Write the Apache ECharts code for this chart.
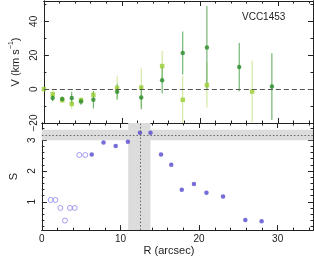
<!DOCTYPE html>
<html>
<head>
<meta charset="utf-8">
<script src="https://cdn.jsdelivr.net/npm/echarts@6/dist/echarts.min.js"></script>
<style>html,body{margin:0;padding:0;background:#fff;}#c{width:314px;height:257px;}</style>
</head>
<body>
<div id="c"></div>
<script>
// ---- data ----
const rLight = [0, 1.13, 2.35, 3.57, 4.76, 6.34, 9.39, 12.48, 15.16, 17.80, 20.9, 26.7];
const vLight = [0, -3.0, -6.5, -8.7, -6.5, -3.4, 0.6, 0.9, 13.6, -6.3, 2.4, -1.4];
const eLight = [0, 2.2, 1.5, 3.0, 1.8, 2.0, 7.0, 11.4, 8.9, 14.0, 13.3, 18.2];

const rDark = [1.13, 2.35, 3.57, 4.76, 6.34, 9.39, 12.48, 15.16, 17.80, 20.9, 25.04, 29.23];
const vDark = [-5.3, -5.9, -5.3, -7.3, -6.3, -1.6, -5.0, 5.3, 21.3, 24.6, 13.0, 1.5];
const eDark = [1.9, 1.5, 3.7, 2.0, 5.1, 4.5, 6.9, 7.9, 12.7, 24.5, 14.3, 19.7];

const rOpen = [1.13, 1.71, 2.35, 2.93, 3.57, 4.18, 4.76, 5.52];
const sOpen = [1.06, 1.06, 0.80, 0.39, 0.80, 0.80, 2.52, 2.52];

const rFill = [6.34, 7.84, 9.39, 10.94, 12.48, 13.82, 15.16, 16.46, 17.80, 19.35, 20.94, 23.05, 25.89, 27.96];
const sFill = [2.54, 2.93, 2.81, 2.95, 3.24, 3.24, 2.54, 2.20, 1.39, 1.58, 1.29, 1.17, 0.41, 0.37];

const sBand = [3.0, 3.34]; const sLine = 3.17;
const rBand = [10.98, 13.82]; const rLine = 12.48;

const xRange = [0, 34.5];
const vRange = [-20, 52];
const sRange = [0.08, 3.56];
const xMajor = [0, 10, 20, 30];
const xMinor = [2, 4, 6, 8, 12, 14, 16, 18, 22, 24, 26, 28, 32, 34];
const vMajor = [-20, 0, 20, 40];
const vMinor = [-10, 10, 30, 50];
const sMajor = [1, 2, 3];
const sMinor = [0.2, 0.4, 0.6, 0.8, 1.2, 1.4, 1.6, 1.8, 2.2, 2.4, 2.6, 2.8, 3.2, 3.4];

// ---- styles ----
const FONT = 'Liberation Sans';
const FRAME = '#222';
const cLight = '#9acd32', cLightBar = '#c9e58c';
const cDark = '#2a8c2a', cDarkBar = '#5aa85a';
const cFill = '#5548d0', cOpen = '#8c86ee';

function fmt(v) { return String(v).replace('-', '\u2212'); }

function mkAxes(grid, range, major, minor, positions, labelPos, extra) {
  const out = [];
  positions.forEach(function (pos) {
    [[major, 5], [minor, 2.5]].forEach(function (pair, k) {
      const ax = {
        type: 'value', gridIndex: grid, min: range[0], max: range[1], position: pos,
        axisLine: { show: true, onZero: false, lineStyle: { color: FRAME, width: 1 } },
        axisTick: { show: true, inside: true, length: pair[1], customValues: pair[0], lineStyle: { color: FRAME, width: 1 } },
        axisLabel: { show: false },
        splitLine: { show: false }
      };
      if (k === 0 && pos === labelPos) {
        Object.assign(ax, extra);
        ax.axisLabel = Object.assign({ show: true, customValues: major, color: '#222', fontFamily: FONT, fontSize: 10, formatter: fmt }, extra.axisLabel || {});
      }
      out.push(ax);
    });
  });
  return out;
}

const xAxes = []
  .concat(mkAxes(0, xRange, xMajor, xMinor, ['bottom', 'top'], 'none', {}))
  .concat(mkAxes(1, xRange, xMajor, xMinor, ['bottom', 'top'], 'bottom', {
    name: 'R (arcsec)', nameLocation: 'middle', nameGap: 11,
    nameTextStyle: { fontFamily: FONT, fontSize: 11, color: '#222', padding: [0, 17, 0, 0] },
    axisLabel: { margin: 4 }
  }));
const yAxes = []
  .concat(mkAxes(0, vRange, vMajor, vMinor, ['left', 'right'], 'left', {
    name: '{a|V (km s}{b|\u22121}{a|)}', nameLocation: 'middle', nameGap: 17, nameRotate: 90,
    nameTextStyle: { fontFamily: FONT, fontSize: 11, color: '#222',
      rich: { a: { fontFamily: FONT, fontSize: 11, color: '#222', verticalAlign: 'bottom', lineHeight: 13 },
              b: { fontFamily: FONT, fontSize: 7, color: '#222', verticalAlign: 'top', lineHeight: 13 } } },
    axisLabel: { rotate: 90, margin: 5 }
  }))
  .concat(mkAxes(1, sRange, sMajor, sMinor, ['left', 'right'], 'left', {
    name: 'S', nameLocation: 'middle', nameGap: 17, nameRotate: 90,
    nameTextStyle: { fontFamily: FONT, fontSize: 11, color: '#222' },
    axisLabel: { rotate: 90, margin: 5 }
  }));

function zip3(a, b, c) { return a.map(function (v, i) { return [v, b[i], c[i]]; }); }
function zip2(a, b) { return a.map(function (v, i) { return [v, b[i]]; }); }

function errSeries(data, color) {
  return {
    type: 'custom', xAxisIndex: 0, yAxisIndex: 0, clip: true, z: 2, silent: true,
    data: data,
    renderItem: function (params, api) {
      const x = api.value(0), y = api.value(1), e = api.value(2);
      const p1 = api.coord([x, y - e]), p2 = api.coord([x, y + e]);
      return { type: 'line', shape: { x1: p1[0], y1: p1[1], x2: p2[0], y2: p2[1] },
               style: { stroke: color, lineWidth: 1 } };
    }
  };
}

const option = {
  animation: false,
  backgroundColor: '#fff',
  grid: [
    { left: 30, right: 1, top: 1, height: 122 },
    { left: 30, right: 1, top: 123, height: 110.5 }
  ],
  xAxis: xAxes,
  yAxis: yAxes,
  graphic: [{ type: 'text', left: 242, top: 12, style: { text: 'VCC1453', fontFamily: FONT, fontSize: 10, fill: '#222' } }],
  series: [
    { type: 'line', xAxisIndex: 0, yAxisIndex: 0, data: [], z: 1, silent: true,
      markLine: { silent: true, symbol: 'none', label: { show: false },
        lineStyle: { color: '#555', type: [5, 3], width: 1 }, data: [{ yAxis: 0 }] } },
    errSeries(zip3(rLight, vLight, eLight), cLightBar),
    errSeries(zip3(rDark, vDark, eDark), cDarkBar),
    { type: 'scatter', xAxisIndex: 0, yAxisIndex: 0, symbol: 'rect', symbolSize: 4.5, z: 3,
      itemStyle: { color: cLight }, data: zip2(rLight, vLight) },
    { type: 'scatter', xAxisIndex: 0, yAxisIndex: 0, symbol: 'circle', symbolSize: 4.5, z: 4,
      itemStyle: { color: cDark }, data: zip2(rDark, vDark) },
    { type: 'line', xAxisIndex: 4, yAxisIndex: 4, data: [], z: 1, silent: true,
      markArea: { silent: true, itemStyle: { color: '#dcdcdc' },
        data: [[{ yAxis: sBand[0] }, { yAxis: sBand[1] }], [{ xAxis: rBand[0] }, { xAxis: rBand[1] }]] },
      markLine: { silent: true, symbol: 'none', label: { show: false },
        lineStyle: { color: '#666', type: [1.5, 2], width: 1 }, data: [{ yAxis: sLine }, { xAxis: rLine }] } },
    { type: 'scatter', xAxisIndex: 4, yAxisIndex: 4, symbol: 'circle', symbolSize: 5, z: 3,
      itemStyle: { color: 'transparent', borderColor: cOpen, borderWidth: 1 }, data: zip2(rOpen, sOpen) },
    { type: 'scatter', xAxisIndex: 4, yAxisIndex: 4, symbol: 'circle', symbolSize: 4.5, z: 3,
      itemStyle: { color: cFill }, data: zip2(rFill, sFill) }
  ]
};
const chart = echarts.init(document.getElementById('c'), null, { renderer: 'canvas' });
chart.setOption(option);
</script>
</body>
</html>
